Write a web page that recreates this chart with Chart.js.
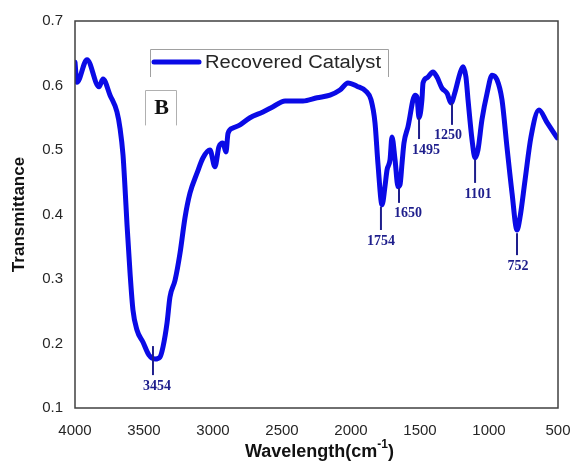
<!DOCTYPE html>
<html>
<head>
<meta charset="utf-8">
<script src="https://cdn.jsdelivr.net/npm/chart.js@4/dist/chart.umd.min.js"></script>
<style>
  html, body { margin: 0; padding: 0; background: #fff; overflow: hidden; }
  #c { display: block; }
</style>
</head>
<body>
<canvas id="c" width="573" height="469"></canvas>
<script>
// ---- data ----
const seriesName = 'Recovered Catalyst';
const panelLetter = 'B';
const wavenumbers = [4000, 3986, 3913, 3826, 3797, 3746, 3696, 3674, 3652, 3638, 3623, 3601, 3580, 3551, 3507, 3464, 3420, 3384, 3362, 3333, 3312, 3275, 3239, 3203, 3167, 3116, 3072, 3022, 2986, 2957, 2928, 2906, 2891, 2855, 2804, 2732, 2638, 2565, 2478, 2348, 2246, 2152, 2080, 2022, 1957, 1891, 1855, 1826, 1804, 1775, 1754, 1739, 1717, 1703, 1681, 1659, 1645, 1630, 1616, 1587, 1536, 1522, 1507, 1486, 1478, 1449, 1406, 1377, 1341, 1304, 1275, 1246, 1210, 1188, 1167, 1152, 1123, 1101, 1080, 1051, 1014, 978, 942, 906, 870, 833, 797, 775, 739, 696, 638, 580, 507];
const transmittance = [0.636, 0.605, 0.640, 0.598, 0.610, 0.585, 0.559, 0.534, 0.492, 0.443, 0.384, 0.309, 0.252, 0.221, 0.202, 0.182, 0.176, 0.179, 0.195, 0.232, 0.272, 0.298, 0.340, 0.395, 0.433, 0.464, 0.488, 0.500, 0.474, 0.505, 0.511, 0.497, 0.526, 0.534, 0.539, 0.550, 0.559, 0.567, 0.576, 0.576, 0.581, 0.585, 0.593, 0.604, 0.599, 0.591, 0.578, 0.542, 0.477, 0.415, 0.443, 0.469, 0.485, 0.520, 0.485, 0.443, 0.446, 0.480, 0.511, 0.536, 0.585, 0.582, 0.550, 0.578, 0.604, 0.612, 0.621, 0.613, 0.596, 0.588, 0.573, 0.590, 0.619, 0.629, 0.613, 0.578, 0.516, 0.488, 0.500, 0.547, 0.588, 0.616, 0.609, 0.578, 0.505, 0.433, 0.376, 0.396, 0.453, 0.520, 0.562, 0.543, 0.519];

const peakLabels = ['3454', '1754', '1650', '1495', '1250', '1101', '752'];
const peakX      = [3435, 1783, 1652, 1507, 1268, 1101, 797];
const peakTop    = [0.196, 0.412, 0.441, 0.550, 0.573, 0.485, 0.371];
const peakBottom = [0.151, 0.376, 0.418, 0.517, 0.539, 0.449, 0.337];

const xMin = 500, xMax = 4000, xStep = 500;
const yMin = 0.1, yMax = 0.7, yStep = 0.1;

// ---- styles ----
const curveColor = '#0a0ae6';
const peakColor = '#1e1e8c';
const textColor = '#262626';
const frameColor = '#404040';

const annotationPlugin = {
  id: 'extras',
  afterDatasetsDraw(chart) {
    const ctx = chart.ctx;
    const xs = chart.scales.x, ys = chart.scales.y;
    const a = chart.chartArea;
    const shift = [4, 0, 9, 7, -4, 3, 1];
    ctx.save();
    // frame
    ctx.strokeStyle = frameColor;
    ctx.lineWidth = 1.5;
    ctx.strokeRect(a.left, a.top, a.right - a.left, a.bottom - a.top);

    // peak markers
    ctx.strokeStyle = peakColor;
    ctx.fillStyle = peakColor;
    ctx.lineWidth = 2;
    ctx.font = 'bold 14px "Liberation Serif", "Times New Roman", serif';
    ctx.textAlign = 'center';
    ctx.textBaseline = 'top';
    peakLabels.forEach((lab, i) => {
      const px = xs.getPixelForValue(peakX[i]);
      const y1 = ys.getPixelForValue(peakTop[i]);
      const y2 = ys.getPixelForValue(peakBottom[i]);
      ctx.beginPath();
      ctx.moveTo(px, y1);
      ctx.lineTo(px, y2);
      ctx.stroke();
      ctx.fillText(lab, px + shift[i], y2 + 4);
    });

    // legend box
    const lx = a.left + 75, ly = a.top + 28, lw = 238, lh = 28;
    ctx.strokeStyle = '#a0a0a0';
    ctx.lineWidth = 1;
    ctx.beginPath();
    ctx.moveTo(lx + 0.5, ly + lh);
    ctx.lineTo(lx + 0.5, ly + 0.5);
    ctx.lineTo(lx + lw + 0.5, ly + 0.5);
    ctx.lineTo(lx + lw + 0.5, ly + lh);
    ctx.stroke();
    ctx.strokeStyle = curveColor;
    ctx.lineWidth = 5;
    ctx.lineCap = 'round';
    ctx.beginPath();
    ctx.moveTo(lx + 4, ly + 13);
    ctx.lineTo(lx + 49, ly + 13);
    ctx.stroke();
    ctx.fillStyle = textColor;
    ctx.font = '18px "Liberation Sans", Arial, sans-serif';
    ctx.textAlign = 'left';
    ctx.textBaseline = 'middle';
    const label = chart.data.datasets[0].label;
    const lwText = ctx.measureText(label).width;
    const sx = 176 / lwText;
    ctx.save();
    ctx.translate(lx + 55, ly + 14);
    ctx.scale(sx, 1);
    ctx.fillText(label, 0, 0);
    ctx.restore();

    // panel letter box
    const bx = a.left + 70, by = a.top + 69, bw = 31, bh = 35;
    ctx.strokeStyle = '#b0b0b0';
    ctx.lineWidth = 1;
    ctx.beginPath();
    ctx.moveTo(bx + 0.5, by + bh);
    ctx.lineTo(bx + 0.5, by + 0.5);
    ctx.lineTo(bx + bw + 0.5, by + 0.5);
    ctx.lineTo(bx + bw + 0.5, by + bh);
    ctx.stroke();
    ctx.fillStyle = '#111';
    ctx.font = 'bold 22px "Liberation Serif", "Times New Roman", serif';
    ctx.textAlign = 'center';
    ctx.textBaseline = 'middle';
    ctx.fillText(panelLetter, bx + bw / 2 + 1, by + bh / 2 + 1);

    // x axis title with superscript
    ctx.fillStyle = '#111';
    const mainFont = 'bold 18px "Liberation Sans", Arial, sans-serif';
    const supFont = 'bold 12px "Liberation Sans", Arial, sans-serif';
    const p1 = 'Wavelength(cm', p2 = '-1', p3 = ')';
    ctx.font = mainFont; const w1 = ctx.measureText(p1).width, w3 = ctx.measureText(p3).width;
    ctx.font = supFont; const w2 = ctx.measureText(p2).width;
    const total = w1 + w2 + w3;
    let tx = (a.left + a.right) / 2 - total / 2 + 3;
    const ty = a.bottom + 44;
    ctx.textAlign = 'left';
    ctx.textBaseline = 'middle';
    ctx.font = mainFont; ctx.fillText(p1, tx, ty); tx += w1;
    ctx.font = supFont; ctx.fillText(p2, tx, ty - 7); tx += w2;
    ctx.font = mainFont; ctx.fillText(p3, tx, ty);
    ctx.restore();
  }
};

new Chart(document.getElementById('c'), {
  type: 'line',
  data: {
    datasets: [{
      label: seriesName,
      data: wavenumbers.map((w, i) => ({ x: w, y: transmittance[i] })),
      borderColor: curveColor,
      borderWidth: 5,
      pointRadius: 0,
      fill: false,
      cubicInterpolationMode: 'monotone',
      borderJoinStyle: 'round',
      borderCapStyle: 'round'
    }]
  },
  options: {
    responsive: false,
    animation: false,
    devicePixelRatio: 1,
    layout: { padding: { left: 0, top: 21, right: 15, bottom: 0 } },
    plugins: { legend: { display: false }, tooltip: { enabled: false } },
    scales: {
      x: {
        type: 'linear',
        reverse: true,
        min: xMin, max: xMax,
        grid: { display: false, drawTicks: false },
        border: { display: false },
        ticks: {
          stepSize: xStep,
          padding: 14,
          color: textColor,
          font: { family: '"Liberation Sans", Arial, sans-serif', size: 15 },
          maxRotation: 0,
          autoSkip: false,
          callback: v => String(v)
        },
        afterFit(s) { s.height = 61; s.paddingLeft = 0; s.paddingRight = 0; }
      },
      y: {
        min: yMin, max: yMax,
        grid: { display: false, drawTicks: false },
        border: { display: false },
        title: {
          display: true,
          text: 'Transmittance',
          color: '#111',
          font: { family: '"Liberation Sans", Arial, sans-serif', size: 17, weight: 'bold' },
          padding: { top: 9, bottom: 0 }
        },
        ticks: {
          stepSize: yStep,
          padding: 12,
          color: textColor,
          font: { family: '"Liberation Sans", Arial, sans-serif', size: 15 },
          callback: v => (Math.round(v * 10) / 10).toFixed(1)
        },
        afterFit(s) { s.width = 75; s.paddingTop = 0; s.paddingBottom = 0; }
      }
    }
  },
  plugins: [annotationPlugin]
});
</script>
</body>
</html>
